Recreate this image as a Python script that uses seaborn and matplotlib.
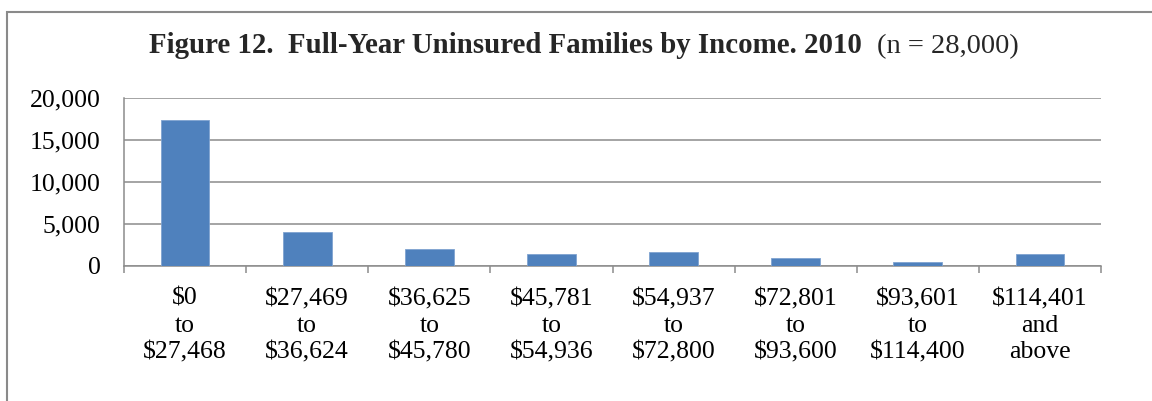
import matplotlib
matplotlib.use("Agg")
import matplotlib.pyplot as plt
import seaborn as sns
import pandas as pd
from matplotlib.patches import Rectangle
from matplotlib.ticker import FuncFormatter, FixedLocator

categories = ["$0\nto\n$27,468", "$27,469\nto\n$36,624", "$36,625\nto\n$45,780",
              "$45,781\nto\n$54,936", "$54,937\nto\n$72,800", "$72,801\nto\n$93,600",
              "$93,601\nto\n$114,400", "$114,401\nand\nabove"]
families = [17400, 4000, 2000, 1400, 1600, 950, 420, 1380]
y_ticks = [0, 5000, 10000, 15000, 20000]

sns.set_theme(style="white")
plt.rcParams['font.family'] = ['Liberation Serif', 'DejaVu Serif']
plt.rcParams['text.parse_math'] = False

W, H = 1152, 401
fig = plt.figure(figsize=(W / 100, H / 100), dpi=100)
ax = fig.add_axes([124 / W, 1 - 265.7 / H, (1101 - 124) / W, (265.7 - 97.7) / H])

df = pd.DataFrame({"cat": categories, "val": families})
sns.barplot(data=df, x="cat", y="val", ax=ax, color="#4F81BD", saturation=1,
            width=0.4, edgecolor="#7FA3D0", linewidth=0.6, zorder=3)

grid_c = "#8C8C8C"
ax.set_ylim(0, 20000)
ax.set_xlim(-0.5, len(categories) - 0.5)
ax.set_yticks(y_ticks)
ax.yaxis.set_major_formatter(FuncFormatter(lambda v, p: f"{int(v):,}"))
ax.grid(axis="y", color=grid_c, linewidth=1.1, zorder=0)
ax.set_axisbelow(True)
for s in ["top", "right"]:
    ax.spines[s].set_visible(False)
for s in ["left", "bottom"]:
    ax.spines[s].set_color(grid_c)
    ax.spines[s].set_linewidth(1.1)

ax.tick_params(axis="y", length=0, pad=17, labelsize=18.5, labelcolor="#000000")
ax.tick_params(axis="x", which="major", length=0, pad=16, labelsize=18.5, labelcolor="#000000")
ax.xaxis.set_minor_locator(FixedLocator([i - 0.5 for i in range(len(categories) + 1)]))
ax.tick_params(axis="x", which="minor", length=5, width=1.1, color=grid_c, bottom=True)
for lab in ax.get_xticklabels():
    lab.set_linespacing(1.28)
    lab.set_ha("center")
ax.set_xlabel("")
ax.set_ylabel("")

# figure border
fig.patches.append(Rectangle((7 / W, -0.1), 1.2, 1 - 12 / H + 0.1, transform=fig.transFigure,
                             fill=False, edgecolor="#8A8A8A", linewidth=1.5, zorder=10))

# title
t1 = fig.text(149 / W, 1 - 53 / H, "Figure 12.  Full-Year Uninsured Families by Income. 2010",
              fontsize=20.8, fontweight="bold", ha="left", va="baseline")
fig.canvas.draw()
bb = t1.get_window_extent()
fig.text((bb.x1 + 15) / W, 1 - 53 / H, "(n = 28,000)", fontsize=20.5, ha="left", va="baseline")

fig.savefig("out.png", dpi=100)
